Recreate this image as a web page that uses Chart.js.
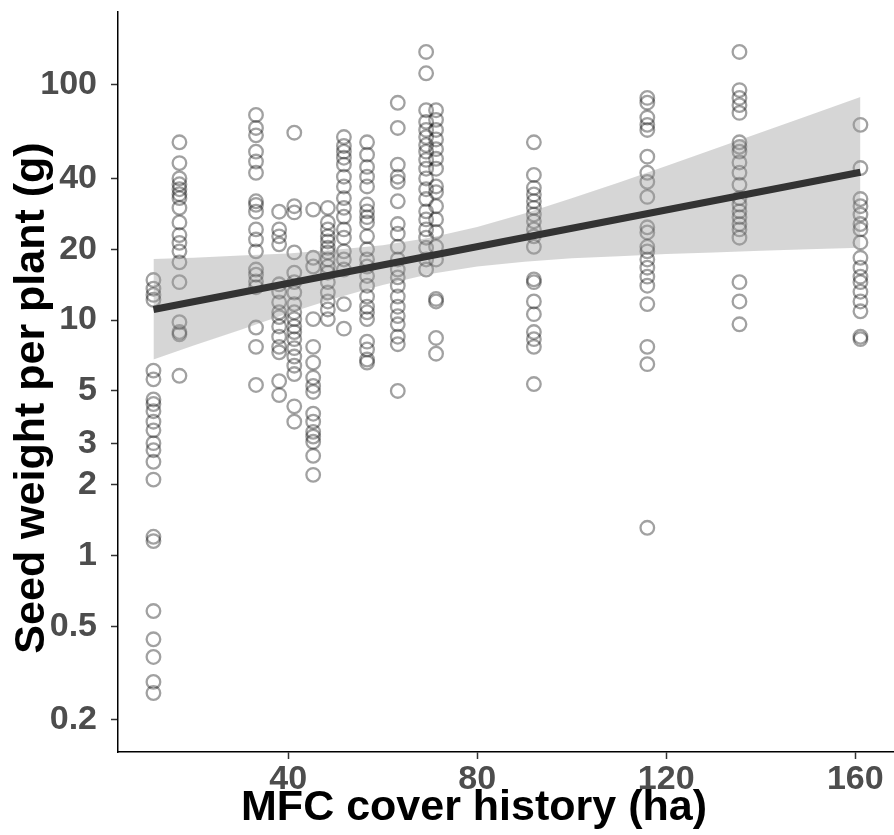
<!DOCTYPE html>
<html>
<head>
<meta charset="utf-8">
<script src="https://cdn.jsdelivr.net/npm/chart.js@4.4.0/dist/chart.umd.min.js"></script>
<style>
  html, body { margin: 0; padding: 0; background: #fff; overflow: hidden; }
  #wrap { width: 894px; height: 835px; }
</style>
</head>
<body>
<div id="wrap"><canvas id="seedChart" width="894" height="835"></canvas></div>
<script>
// --- MFC cover history (ha) of each site ---
const coverHa = [11.5, 17, 33.2, 38.1, 41.3, 45.3, 48.4, 51.8, 56.7, 63.2, 69.2, 71.3, 92, 116, 135.5, 161.1];

// --- seed weight per plant (g), one list per site ---
const w11 = [14.8, 13.6, 12.8, 12.2, 6.1, 5.6, 4.6, 4.4, 4.1, 3.7, 3.4, 3.0, 2.8, 2.5, 2.1, 1.2, 1.15, 0.58, 0.44, 0.37, 0.29, 0.26];
const w17 = [57, 46.5, 40, 37.8, 36, 34.3, 33, 30, 26, 23, 21.3, 19.6, 17.6, 14.5, 9.8, 8.9, 8.7, 5.8];
const w33 = [74.5, 65.6, 61, 52, 47.2, 42.3, 32, 30.9, 28.9, 24.3, 22, 19.6, 16.4, 15.6, 14.6, 13.8, 9.3, 7.7, 5.3];
const w38 = [28.9, 24.3, 22.7, 21, 14.2, 13.2, 11.9, 10.8, 10.3, 9.4, 8.5, 7.7, 7.3, 5.5, 4.8];
const w41 = [62.6, 30.5, 28.7, 19.4, 15.9, 14.5, 13.1, 11.7, 10.8, 10.1, 9.4, 8.9, 8.3, 7.6, 7.0, 6.4, 5.9, 4.3, 3.7];
const w45 = [29.5, 18.4, 16.9, 10.1, 7.7, 6.6, 5.7, 5.25, 4.95, 4.0, 3.7, 3.35, 3.2, 3.04, 2.65, 2.2];
const w48 = [30, 26, 24.3, 22.7, 21.6, 20.3, 19.4, 18.1, 16.9, 15.9, 14.5, 13.1, 12, 11.1, 10.1];
const w52 = [60, 55, 52, 49, 45.8, 40.7, 37, 33, 30, 27.5, 24.3, 22.4, 19.6, 18.1, 16.4, 11.7, 9.2];
const w57 = [57, 50.5, 44.8, 40.7, 37, 31, 29, 27.4, 26, 22.7, 20, 18.1, 16.9, 15.4, 14, 12.6, 11.4, 10.8, 10.1, 8.1, 7.5, 6.8, 6.6];
const w63 = [83.9, 65.6, 45.8, 40.7, 38.7, 32, 25.6, 23.3, 20.5, 18.1, 16.4, 15.2, 14, 12.6, 11.4, 10.4, 9.6, 8.5, 7.9, 5.0];
const w69 = [138, 112, 78, 69.6, 64.3, 60, 55.5, 52, 48, 44, 40, 36, 32.7, 29, 26.8, 24.3, 22.4, 20.3, 18.1, 16.4];
const w71 = [78, 71, 64.3, 58.6, 53.3, 48.5, 44, 37, 35, 30.5, 26.8, 23.7, 20.5, 18.1, 12.3, 12, 8.4, 7.2];
const w92 = [57, 41.4, 36.5, 34.2, 32, 30, 28.1, 26.3, 24.3, 22.7, 20.5, 14.9, 14.5, 12, 10.6, 8.9, 8.3, 7.7, 5.35];
const w116 = [88, 84, 72.6, 67.6, 64.3, 49.5, 42.3, 38.7, 33.4, 24.8, 23.6, 20.5, 19.6, 18.1, 16.7, 15.3, 14, 11.7, 7.7, 6.5, 1.31];
const w135 = [138, 95, 88, 82, 76, 57, 54.5, 52, 46.8, 42.3, 37.6, 33, 31, 29, 27.4, 25.6, 24.3, 22.4, 14.5, 12, 9.6];
const w161 = [67.6, 44.3, 32.7, 30.5, 28.1, 25.6, 24.3, 21.4, 18.4, 16.7, 15.3, 14.5, 13.2, 12, 10.9, 8.5, 8.3];
const weights = [w11, w17, w33, w38, w41, w45, w48, w52, w57, w63, w69, w71, w92, w116, w135, w161];

// --- fitted line and confidence band ---
const fitX = [11.5, 161.1];
const fitY = [11.1, 42.5];
const bandX = [11.5, 20, 30, 40, 50, 60, 70, 80, 90, 100, 110, 120, 130, 140, 150, 161.1];
const bandUpper = [18.2, 18.4, 18.8, 19.2, 19.9, 20.8, 22.4, 24.9, 28.4, 33, 38.5, 45.2, 53.2, 62.7, 73.9, 88.7];
const bandLower = [6.8, 7.8, 9.1, 10.7, 12.4, 14.1, 15.7, 16.9, 17.7, 18.3, 18.7, 19.1, 19.4, 19.7, 20.0, 20.3];

// --- axis ticks ---
const xTicks = [40, 80, 120, 160];
const yTicks = [0.2, 0.5, 1, 2, 3, 5, 10, 20, 40, 100];

const xTitle = 'MFC cover history (ha)';
const yTitle = 'Seed weight per plant (g)';

const fontFamily = '"Liberation Sans", Arial, sans-serif';
Chart.defaults.font.family = fontFamily;

const points = [];
coverHa.forEach((x, i) => weights[i].forEach(y => points.push({ x: x, y: y })));
const fitPts = fitX.map((x, i) => ({ x: x, y: fitY[i] }));
const upperPts = bandX.map((x, i) => ({ x: x, y: bandUpper[i] }));
const lowerPts = bandX.map((x, i) => ({ x: x, y: bandLower[i] }));

const tickFont = { size: 34, weight: 'bold' };

// axis titles sit a little off the panel centre in the original, so draw them here
const axisTitles = {
    id: 'axisTitles',
    afterDraw(chart) {
        const ctx = chart.ctx;
        ctx.save();
        ctx.fillStyle = '#000';
        ctx.font = 'bold 43px ' + fontFamily;
        ctx.textAlign = 'center';
        ctx.textBaseline = 'alphabetic';
        ctx.fillText(xTitle, 474, 820);
        ctx.translate(44, 398);
        ctx.rotate(-Math.PI / 2);
        ctx.fillText(yTitle, 0, 0);
        ctx.restore();
    }
};

new Chart(document.getElementById('seedChart'), {
    type: 'scatter',
    data: {
        datasets: [
            { type: 'line', data: fitPts, borderColor: '#333333', borderWidth: 7, pointRadius: 0, fill: false, order: 0 },
            { type: 'line', data: upperPts, borderWidth: 0, borderColor: 'rgba(0,0,0,0)', pointRadius: 0, fill: '+1', backgroundColor: 'rgba(153,153,153,0.4)', order: 1 },
            { type: 'line', data: lowerPts, borderWidth: 0, borderColor: 'rgba(0,0,0,0)', pointRadius: 0, fill: false, order: 1 },
            { data: points, pointRadius: 6.8, borderWidth: 2.3, borderColor: 'rgba(0,0,0,0.37)', backgroundColor: 'rgba(0,0,0,0)', order: 2 }
        ]
    },
    options: {
        responsive: false,
        animation: false,
        devicePixelRatio: 1,
        layout: { autoPadding: false, padding: { top: 12, right: 0, bottom: 0, left: 0 } },
        plugins: { legend: { display: false }, tooltip: { enabled: false } },
        scales: {
            x: {
                type: 'linear', min: 4, max: 168.2,
                afterBuildTicks: s => { s.ticks = xTicks.map(v => ({ value: v })); },
                afterFit: s => { s.height = 83; s.paddingLeft = 0; s.paddingRight = 0; },
                grid: { display: true, drawOnChartArea: false, drawTicks: true, tickLength: 7, tickWidth: 1.5, tickColor: '#333' },
                border: { display: true, color: '#000', width: 1.5 },
                ticks: { font: tickFont, color: '#4d4d4d', padding: 0, maxRotation: 0, autoSkip: false, callback: v => String(v) }
            },
            y: {
                type: 'logarithmic', min: 0.146, max: 204,
                afterBuildTicks: s => { s.ticks = yTicks.map(v => ({ value: v })); },
                afterFit: s => { s.width = 118; s.paddingTop = 0; s.paddingBottom = 0; },
                grid: { display: true, drawOnChartArea: false, drawTicks: true, tickLength: 7, tickWidth: 1.5, tickColor: '#333' },
                border: { display: true, color: '#000', width: 1.5 },
                ticks: { font: tickFont, color: '#4d4d4d', padding: 14, autoSkip: false, callback: v => String(v) }
            }
        }
    },
    plugins: [axisTitles]
});
</script>
</body>
</html>
